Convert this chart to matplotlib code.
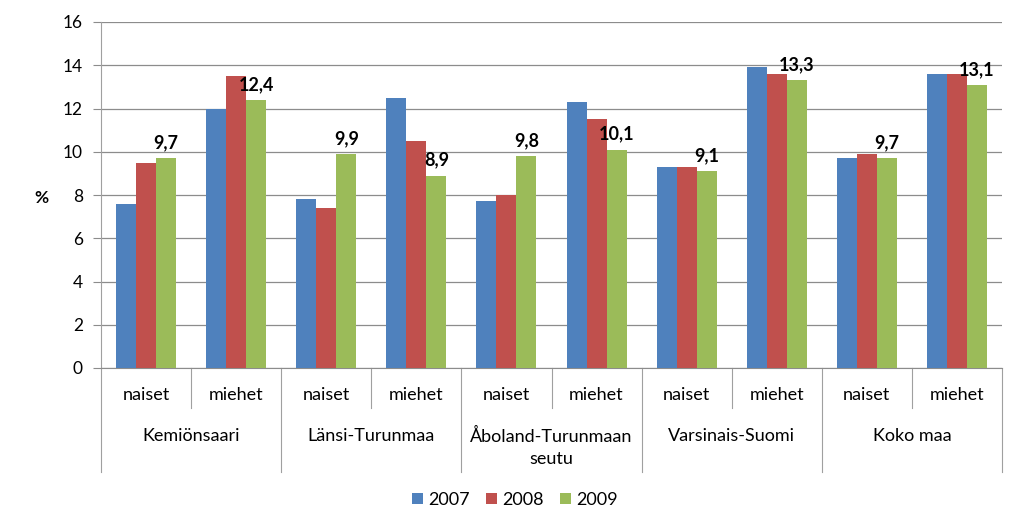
import numpy as np
import matplotlib
matplotlib.use('Agg')
import matplotlib.pyplot as plt

plt.rcParams['font.family'] = ['Lato', 'DejaVu Sans']

# Data
regions = ['Kemiönsaari', 'Länsi-Turunmaa', 'Åboland-Turunmaan\nseutu', 'Varsinais-Suomi', 'Koko maa']
sexes = ['naiset', 'miehet']
years = ['2007', '2008', '2009']
v2007 = [7.6, 12.0, 7.8, 12.5, 7.7, 12.3, 9.3, 13.9, 9.7, 13.6]
v2008 = [9.5, 13.5, 7.4, 10.5, 8.0, 11.5, 9.3, 13.6, 9.9, 13.6]
v2009 = [9.7, 12.4, 9.9, 8.9, 9.8, 10.1, 9.1, 13.3, 9.7, 13.1]
colors = ['#4F81BD', '#C0504D', '#9BBB59']

fig = plt.figure(figsize=(10.24, 5.32), dpi=100)
ax = fig.add_axes([101 / 1024, 1 - 368 / 532, 901 / 1024, 346 / 532])

x = np.arange(len(v2007))
w = 0.222
for i, (vals, c, lab) in enumerate(zip([v2007, v2008, v2009], colors, years)):
    ax.bar(x + (i - 1) * w, vals, width=w, color=c, label=lab, zorder=3)

# labels over the 2009 bars
for xi, v in zip(x, v2009):
    ax.annotate(f'{v:.1f}'.replace('.', ','), (xi + w, v), xytext=(0, 5),
                textcoords='offset points', ha='center', va='bottom',
                fontsize=13, fontweight='bold', zorder=4)

ax.set_xlim(-0.5, len(x) - 0.5)
ax.set_ylim(0, 16)
ax.set_yticks(np.arange(0, 17, 2))
ax.yaxis.grid(True, color='#8c8c8c', linewidth=0.9, zorder=0)
ax.set_axisbelow(True)
ax.tick_params(axis='y', labelsize=12.5, length=6, color='#8c8c8c', pad=7)
ax.set_xticks([])
for s in ['top', 'right']:
    ax.spines[s].set_visible(False)
ax.spines['left'].set_color('#a0a0a0')
ax.spines['bottom'].set_color('#8c8c8c')
ax.text(-0.066, 0.49, '%', transform=ax.transAxes, ha='center', va='center',
        fontsize=12.5, fontweight='bold')

# category axis with two levels
tr = ax.get_xaxis_transform()
for i, xi in enumerate(x):
    ax.text(xi, -0.078, sexes[i % 2], transform=tr, ha='center', va='center', fontsize=13)
for j, r in enumerate(regions):
    ax.text(2 * j + 0.5, -0.172, r, transform=tr, ha='center', va='top', fontsize=13,
            linespacing=1.5)
for b in np.arange(-0.5, len(x), 1.0):
    long_line = int(round(b + 0.5)) % 2 == 0
    ax.plot([b, b], [0, -0.30 if long_line else -0.116], transform=tr,
            color='#a0a0a0', linewidth=0.8, clip_on=False)

fig.legend(loc='center', bbox_to_anchor=(0.503, 1 - 500 / 532), ncol=3, frameon=False,
           fontsize=13, handlelength=0.6, handleheight=0.6, handletextpad=0.3,
           columnspacing=0.9)

fig.savefig('out.png', dpi=100)
